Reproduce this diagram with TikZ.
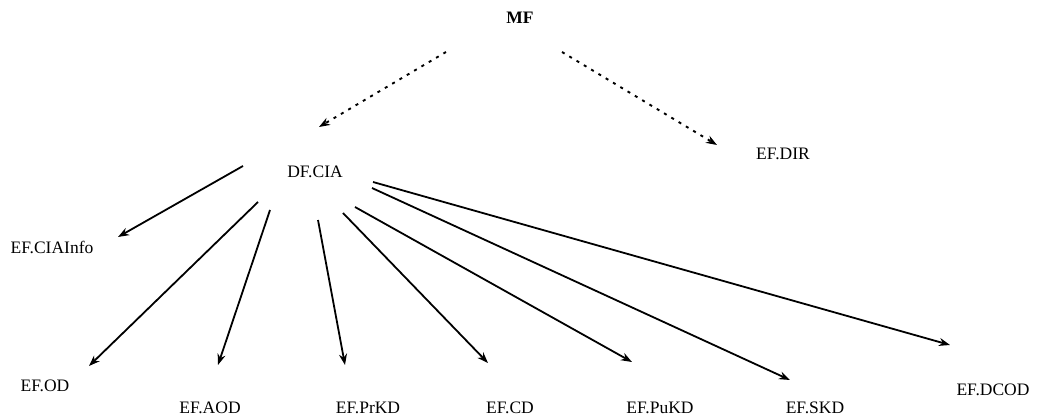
\documentclass[tikz,border=0pt]{standalone}
\usepackage{fontspec}
\setmainfont{Liberation Serif}
\usetikzlibrary{arrows.meta}
\tikzset{
  lbl/.style={inner sep=0pt, font=\fontsize{17.5}{20}\selectfont},
  solidarrow/.style={line width=1.8pt, -{Stealth[length=11pt,width=8pt]}},
  dasharrow/.style={line width=1.9pt, dash pattern=on 3pt off 5.5pt, -{Stealth[length=11pt,width=8pt]}}
}
\begin{document}
\begin{tikzpicture}[x=1pt,y=-1pt]
\useasboundingbox (0,0) rectangle (1037,417);
% labels
\node[lbl, font=\fontsize{17.5}{20}\selectfont\bfseries] (mf) at (520,18) {MF};
\node[lbl] (dfcia) at (315,172) {DF.CIA};
\node[lbl] (efdir) at (783,154) {EF.DIR};
\node[lbl] (efciainfo) at (52,247) {EF.CIAInfo};
\node[lbl] (efod) at (45,386) {EF.OD};
\node[lbl] (efaod) at (210,408) {EF.AOD};
\node[lbl] (efprkd) at (368,408) {EF.PrKD};
\node[lbl] (efcd) at (510,408) {EF.CD};
\node[lbl] (efpukd) at (660,408) {EF.PuKD};
\node[lbl] (efskd) at (815,408) {EF.SKD};
\node[lbl] (efdcod) at (993,390) {EF.DCOD};
% connector end points
\coordinate (mf-l) at (446,52);
\coordinate (mf-r) at (562,52);
\coordinate (dfcia-in) at (319,127);
\coordinate (efdir-in) at (717,145);
\coordinate (s1) at (243,166);
\coordinate (s2) at (258,202);
\coordinate (s3) at (270,210);
\coordinate (s4) at (318,220);
\coordinate (s5) at (343,213);
\coordinate (s6) at (355,207);
\coordinate (s7) at (372,188);
\coordinate (s8) at (373,182);
\coordinate (e1) at (118,237);
\coordinate (e2) at (89,366);
\coordinate (e3) at (218,365);
\coordinate (e4) at (345,365);
\coordinate (e5) at (488,363);
\coordinate (e6) at (632,362);
\coordinate (e7) at (790,380);
\coordinate (e8) at (950,345);
% connectors
\draw[dasharrow] (mf-l) -- (dfcia-in);
\draw[dasharrow] (mf-r) -- (efdir-in);
\draw[solidarrow] (s1) -- (e1);
\draw[solidarrow] (s2) -- (e2);
\draw[solidarrow] (s3) -- (e3);
\draw[solidarrow] (s4) -- (e4);
\draw[solidarrow] (s5) -- (e5);
\draw[solidarrow] (s6) -- (e6);
\draw[solidarrow] (s7) -- (e7);
\draw[solidarrow] (s8) -- (e8);
\end{tikzpicture}
\end{document}
